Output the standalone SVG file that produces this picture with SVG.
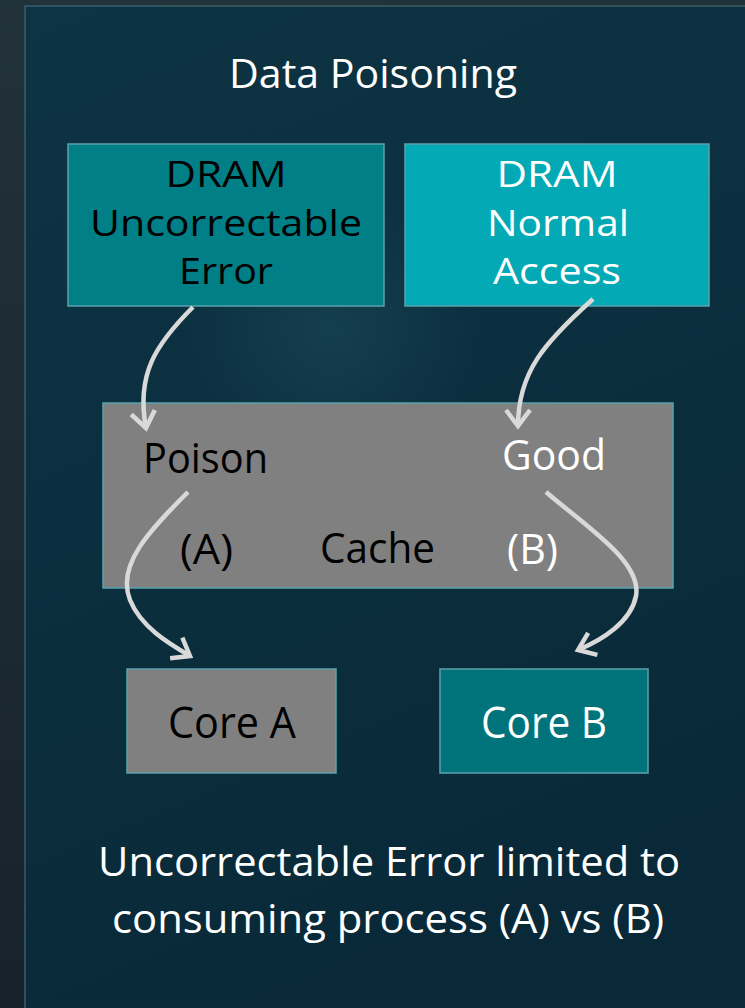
<svg xmlns="http://www.w3.org/2000/svg" width="745" height="1008" viewBox="0 0 745 1008">
<defs>
<linearGradient id="outer" x1="0" y1="0" x2="0" y2="1">
<stop offset="0" stop-color="#22323a"/><stop offset="1" stop-color="#17232a"/>
</linearGradient>
<linearGradient id="panel" x1="0" y1="0" x2="0.3" y2="1">
<stop offset="0" stop-color="#0d3444"/><stop offset="0.5" stop-color="#0b2f3e"/><stop offset="1" stop-color="#092938"/>
</linearGradient>
<radialGradient id="glow" cx="330" cy="330" r="150" gradientUnits="userSpaceOnUse">
<stop offset="0" stop-color="#2a6070" stop-opacity="0.3"/><stop offset="1" stop-color="#2a6070" stop-opacity="0"/>
</radialGradient>
<marker id="ah" markerUnits="userSpaceOnUse" viewBox="-24 -24 48 48" markerWidth="48" markerHeight="48" refX="0" refY="0" orient="auto">
<path d="M-16,-12 L0,0 L-16,12" fill="none" stroke="#d9d9d9" stroke-width="4.5"/>
</marker>
<style>
.box{stroke:#5aa3ad;stroke-width:1.5}
.t{font-family:"Open Sans","Noto Sans","Liberation Sans",sans-serif;text-anchor:middle}
.w{fill:#ffffff}
.k{fill:#000000}
.c{fill:none;stroke:#d9d9d9;stroke-width:4.5}
</style>
</defs>
<rect x="0" y="0" width="745" height="1008" fill="url(#outer)"/>
<rect x="25" y="6" width="740" height="1020" fill="url(#panel)" stroke="#3b5d68" stroke-width="1.5"/>
<rect x="25" y="6" width="740" height="1020" fill="url(#glow)"/>

<g id="title"><text class="t w" x="373" y="88" font-size="41" textLength="288" lengthAdjust="spacingAndGlyphs">Data Poisoning</text></g>

<g id="dram-ue">
<rect class="box" x="68" y="144" width="316" height="162" fill="#017f87"/>
<text class="t k" x="226" y="187" font-size="36" textLength="121" lengthAdjust="spacingAndGlyphs">DRAM</text>
<text class="t k" x="226" y="236" font-size="36" textLength="272" lengthAdjust="spacingAndGlyphs">Uncorrectable</text>
<text class="t k" x="226" y="284" font-size="36" textLength="94" lengthAdjust="spacingAndGlyphs">Error</text>
</g>

<g id="dram-na">
<rect class="box" x="405" y="144" width="304" height="162" fill="#03a9b4"/>
<text class="t w" x="557" y="187" font-size="36" textLength="121" lengthAdjust="spacingAndGlyphs">DRAM</text>
<text class="t w" x="558" y="236" font-size="36" textLength="142" lengthAdjust="spacingAndGlyphs">Normal</text>
<text class="t w" x="557" y="284" font-size="36" textLength="128" lengthAdjust="spacingAndGlyphs">Access</text>
</g>

<g id="cache">
<rect class="box" x="103" y="403" width="570" height="185" fill="#808080"/>
<text class="t k" x="205.5" y="473" font-size="42" textLength="125" lengthAdjust="spacingAndGlyphs">Poison</text>
<text class="t w" x="554" y="470" font-size="42" textLength="104" lengthAdjust="spacingAndGlyphs">Good</text>
<text class="t k" x="206.5" y="564" font-size="42" textLength="53" lengthAdjust="spacingAndGlyphs">(A)</text>
<text class="t k" x="377.5" y="563" font-size="42" textLength="115" lengthAdjust="spacingAndGlyphs">Cache</text>
<text class="t w" x="532.5" y="564" font-size="42" textLength="51" lengthAdjust="spacingAndGlyphs">(B)</text>
</g>

<g id="core-a">
<rect class="box" x="127" y="669" width="209" height="104" fill="#808080"/>
<text class="t k" x="232" y="738" font-size="44" textLength="128" lengthAdjust="spacingAndGlyphs">Core A</text>
</g>

<g id="core-b">
<rect class="box" x="440" y="669" width="208" height="104" fill="#00737b"/>
<text class="t w" x="544" y="738" font-size="44" textLength="126" lengthAdjust="spacingAndGlyphs">Core B</text>
</g>

<g id="caption">
<text class="t w" x="389" y="876" font-size="40" textLength="582" lengthAdjust="spacingAndGlyphs">Uncorrectable Error limited to</text>
<text class="t w" x="388" y="933" font-size="40" textLength="552" lengthAdjust="spacingAndGlyphs">consuming process (A) vs (B)</text>
</g>

<g id="connectors">
<path class="c" d="M193,307 C155,345 136,375 146,428" marker-end="url(#ah)"/>
<path class="c" d="M593,299 C545,342 518,372 518,426" marker-end="url(#ah)"/>
<path class="c" d="M188,492 C150,530 116,565 130,600 C141,627 168,643 190,656" marker-end="url(#ah)"/>
<path class="c" d="M546,492 C588,528 642,562 636,596 C631,622 602,640 578,650" marker-end="url(#ah)"/>
</g>
</svg>
